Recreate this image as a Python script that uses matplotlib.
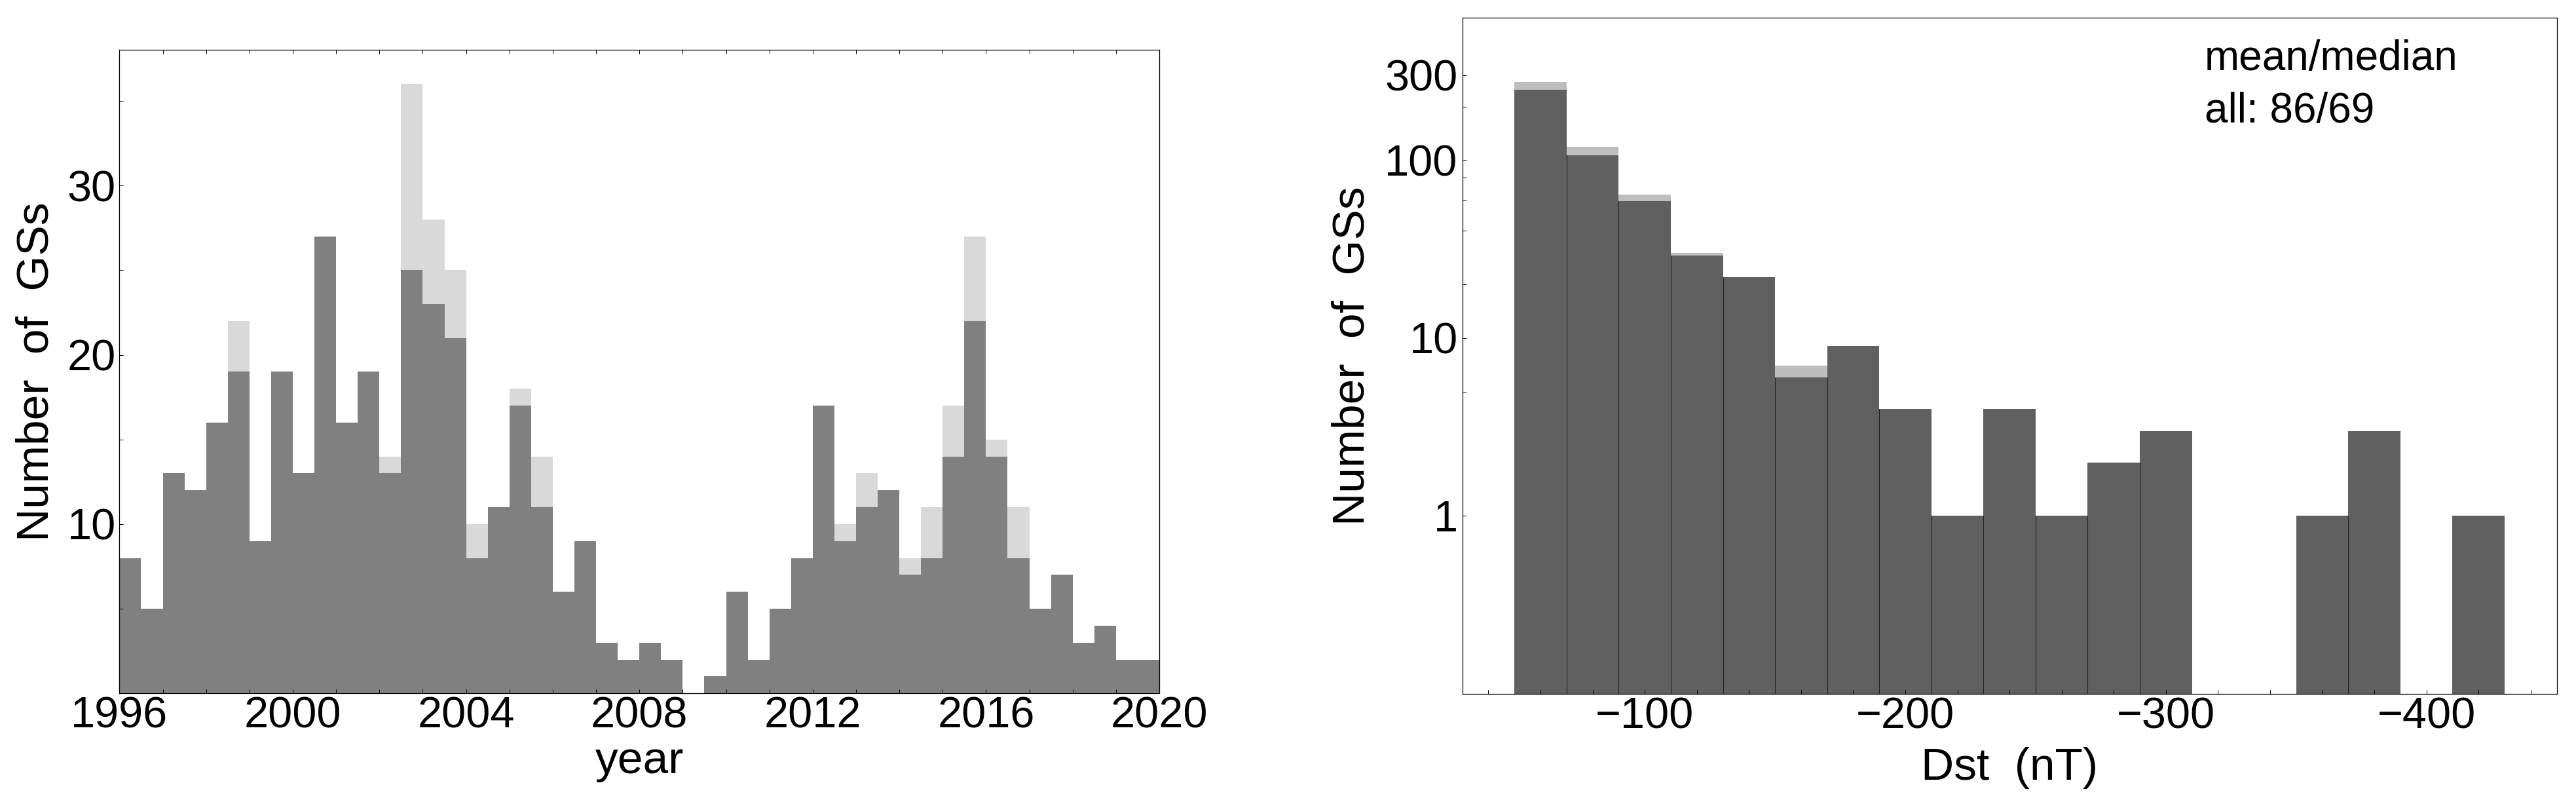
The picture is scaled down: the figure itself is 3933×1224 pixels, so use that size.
import matplotlib
matplotlib.use('Agg')
import matplotlib.pyplot as plt
import numpy as np
from matplotlib.ticker import NullFormatter

plt.rcParams['font.family'] = ['Liberation Sans', 'DejaVu Sans']

# ---------------- data ----------------
# left panel: number of GSs per half-year bin, 1996.0 ... 2019.5
year_bin_start = np.arange(1996, 2020, 0.5)
gs_total = [8, 5, 13, 12, 16, 22, 9, 19, 13, 27, 16, 19, 14, 36, 28, 25,
            10, 11, 18, 14, 6, 9, 3, 2, 3, 2, 0, 1, 6, 2, 5, 8,
            17, 10, 13, 12, 8, 11, 17, 27, 15, 11, 5, 7, 3, 4, 2, 2]
gs_subset = [8, 5, 13, 12, 16, 19, 9, 19, 13, 27, 16, 19, 13, 25, 23, 21,
             8, 11, 17, 11, 6, 9, 3, 2, 3, 2, 0, 1, 6, 2, 5, 8,
             17, 9, 11, 12, 7, 8, 14, 22, 14, 8, 5, 7, 3, 4, 2, 2]
year_major_ticks = [1996, 2000, 2004, 2008, 2012, 2016, 2020]
gs_yticks = [10, 20, 30]

# right panel: Dst histogram, 20 nT bins from -50 to -430
dst_bin_center = np.arange(-60, -421, -20)
dst_total = [276, 119, 64, 30, 22, 7, 9, 4, 1, 4, 1, 2, 3, 0, 0, 1, 3, 0, 1]
dst_subset = [248, 106, 59, 29, 22, 6, 9, 4, 1, 4, 1, 2, 3, 0, 0, 1, 3, 0, 1]
dst_major_ticks = [-100, -200, -300, -400]
count_major_ticks = [1, 10, 100, 300]
count_major_labels = ['1', '10', '100', '300']
count_minor_ticks = [5, 20, 40, 60, 80, 200]
annotation_lines = ['mean/median', 'all: 86/69']

FS = 48
LFS = 50

fig = plt.figure(figsize=(39.33, 12.24), dpi=100)

# ---------------- left panel ----------------
ax1 = fig.add_axes([0.04638, 0.13538, 0.40366, 0.80212])
ax1.bar(year_bin_start, gs_total, width=0.5, align='edge', color='#d9d9d9', linewidth=0)
ax1.bar(year_bin_start, gs_subset, width=0.5, align='edge', color='#808080', linewidth=0)
ax1.set_xlim(1996, 2020)
ax1.set_ylim(0, 38)
ax1.set_xticks(year_major_ticks)
ax1.set_xticks(np.arange(1996, 2021, 1), minor=True)
ax1.set_yticks(gs_yticks)
ax1.set_yticks([5, 15, 25, 35], minor=True)
ax1.tick_params(which='both', direction='in', length=4.1, width=0.72,
                top=True, right=False, labelsize=FS)
ax1.tick_params(axis='x', pad=3)
ax1.tick_params(axis='y', pad=4)
for s in ax1.spines.values():
    s.set_linewidth(0.9)
ax1.text(-0.0802, 0.5, 'Number  of  GSs', transform=ax1.transAxes, rotation=90,
         ha='center', va='center', fontsize=LFS)
ax1.text(0.5, -0.124, 'year', transform=ax1.transAxes, ha='center',
         va='baseline', fontsize=LFS)

# ---------------- right panel ----------------
ax2 = fig.add_axes([0.56768, 0.13480, 0.42484, 0.84289])
ax2.set_yscale('log')
tot = np.where(np.array(dst_total) > 0, dst_total, np.nan)
sub = np.where(np.array(dst_subset) > 0, dst_subset, np.nan)
ax2.bar(dst_bin_center, tot, width=20, color='#bebebe', linewidth=0)
ax2.bar(dst_bin_center, sub, width=20, color='#606060', linewidth=0)
for i in range(len(dst_subset) - 1):
    h = min(dst_subset[i], dst_subset[i + 1])
    if h > 0:
        ax2.vlines(dst_bin_center[i] - 10, 0.1, h, color='#222222', lw=0.8)
ax2.set_xlim(-30, -450)
ax2.set_ylim(0.1, 630)
ax2.set_xticks(dst_major_ticks)
ax2.set_xticks(np.arange(-40, -441, -20), minor=True)
ax2.set_yticks(count_major_ticks, labels=count_major_labels)
ax2.set_yticks(count_minor_ticks, minor=True)
ax2.yaxis.set_minor_formatter(NullFormatter())
ax2.tick_params(which='both', direction='in', length=4.1, width=0.72,
                top=False, right=False, labelsize=FS)
ax2.tick_params(axis='x', pad=3)
ax2.tick_params(axis='y', pad=5)
for s in ax2.spines.values():
    s.set_linewidth(0.9)
ax2.text(-0.1004, 0.5, 'Number  of  GSs', transform=ax2.transAxes, rotation=90,
         ha='center', va='center', fontsize=LFS)
ax2.text(0.5, -0.127, 'Dst  (nT)', transform=ax2.transAxes, ha='center',
         va='baseline', fontsize=LFS)
ax2.text(0.678, 0.9228, annotation_lines[0], transform=ax2.transAxes,
         ha='left', va='baseline', fontsize=46)
ax2.text(0.678, 0.8452, annotation_lines[1], transform=ax2.transAxes,
         ha='left', va='baseline', fontsize=46)

fig.savefig('out.png', dpi=100)
